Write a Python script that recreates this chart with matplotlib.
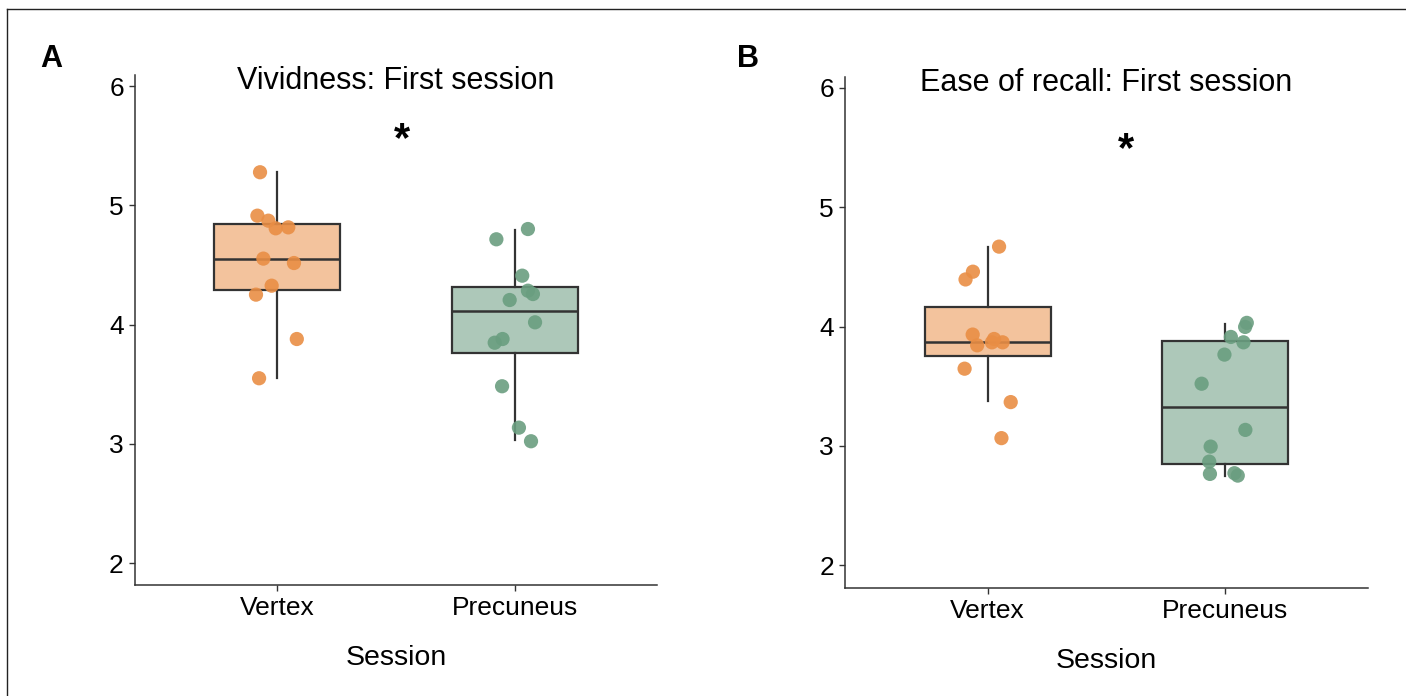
import matplotlib
matplotlib.use("Agg")
import matplotlib.pyplot as plt
from matplotlib.lines import Line2D
import numpy as np

plt.rcParams['font.family'] = ['Liberation Sans', 'DejaVu Sans']

categories = ["Vertex", "Precuneus"]

# Panel A: vividness, first session
viv_vertex = [5.277, 4.913, 4.871, 4.807, 4.815, 4.553, 4.516, 4.326, 4.251, 3.879, 3.550]
viv_vertex_jit = [-0.073, -0.084, -0.038, -0.007, 0.046, -0.059, 0.070, -0.024, -0.090, 0.082, -0.077]
viv_precun = [4.801, 4.715, 4.410, 4.284, 4.256, 4.206, 4.019, 3.879, 3.848, 3.483, 3.136, 3.022]
viv_precun_jit = [0.056, -0.077, 0.032, 0.056, 0.077, -0.021, 0.086, -0.051, -0.084, -0.053, 0.018, 0.069]
# box stats: whislo, q1, med, q3, whishi
viv_boxes = [[3.550, 4.290, 4.553, 4.843, 5.277],
             [3.030, 3.759, 4.114, 4.318, 4.793]]

# Panel B: ease of recall, first session
ease_vertex = [4.670, 4.460, 4.395, 3.933, 3.843, 3.896, 3.868, 3.868, 3.647, 3.367, 3.065]
ease_vertex_jit = [0.048, -0.062, -0.093, -0.063, -0.044, 0.027, 0.018, 0.063, -0.097, 0.097, 0.058]
ease_precun = [4.031, 3.997, 3.913, 3.868, 3.765, 3.521, 3.134, 2.994, 2.868, 2.765, 2.771, 2.751]
ease_precun_jit = [0.090, 0.083, 0.023, 0.076, -0.004, -0.100, 0.084, -0.062, -0.068, -0.065, 0.038, 0.052]
ease_boxes = [[3.372, 3.750, 3.868, 4.162, 4.670],
              [2.748, 2.846, 3.330, 3.882, 4.025]]

POINT_COLORS = ["#E98E45", "#6A9E80"]
FILL_COLORS = ["#F3C39D", "#ADC8B9"]
LINE_COLOR = "#333333"


def draw_panel(ax, boxes, points, jitters, title, star_xy, ylim):
    stats = []
    for i, b in enumerate(boxes):
        stats.append(dict(whislo=b[0], q1=b[1], med=b[2], q3=b[3], whishi=b[4],
                          fliers=[], label=categories[i]))
    bp = ax.bxp(stats, positions=[1, 2], widths=0.53, patch_artist=True,
                showcaps=False, showfliers=False,
                boxprops=dict(edgecolor=LINE_COLOR, linewidth=1.6),
                whiskerprops=dict(color=LINE_COLOR, linewidth=1.6),
                medianprops=dict(color=LINE_COLOR, linewidth=1.8))
    for patch, c in zip(bp['boxes'], FILL_COLORS):
        patch.set_facecolor(c)
    for i, (vals, jit) in enumerate(zip(points, jitters)):
        x = (i + 1) + np.array(jit)
        ax.scatter(x, vals, s=105, color=POINT_COLORS[i], alpha=0.9,
                   edgecolors='none', zorder=3)
    ax.text(star_xy[0], star_xy[1], "*", fontsize=30, fontweight='bold',
            ha='center', va='center')
    ax.set_xlim(0.4, 2.6)
    ax.set_ylim(*ylim)
    ax.set_yticks([2, 3, 4, 5, 6])
    ax.set_xticks([1, 2])
    ax.set_xticklabels(categories)
    # fixed y so matplotlib does not push the title up
    ax.set_title(title, fontsize=22, y=0.972, pad=0)
    ax.set_xlabel("Session", fontsize=20.5, labelpad=18)
    for side in ['top', 'right']:
        ax.spines[side].set_visible(False)
    for side in ['left', 'bottom']:
        ax.spines[side].set_color(LINE_COLOR)
        ax.spines[side].set_linewidth(1.1)
    ax.tick_params(labelsize=19, length=4, width=1.0, color=LINE_COLOR, pad=4)


fig = plt.figure(figsize=(14.06, 6.96), dpi=100)
axA = fig.add_axes([0.0960, 0.1595, 0.3713, 0.7327])
axB = fig.add_axes([0.6010, 0.1552, 0.3720, 0.7342])

draw_panel(axA, viv_boxes, [viv_vertex, viv_precun], [viv_vertex_jit, viv_precun_jit],
           "Vividness: First session", (1.527, 5.55), (1.817, 6.092))
draw_panel(axB, ease_boxes, [ease_vertex, ease_precun], [ease_vertex_jit, ease_precun_jit],
           "Ease of recall: First session", (1.582, 5.48), (1.809, 6.092))

fig.text(0.0285, 0.915, "A", fontsize=22, fontweight='bold', va='center')
fig.text(0.524, 0.915, "B", fontsize=22, fontweight='bold', va='center')

# frame lines along the top and left edge
fig.add_artist(Line2D([7 / 1406, 1.0], [1 - 9 / 696, 1 - 9 / 696], color="#222222", linewidth=1.0))
fig.add_artist(Line2D([7 / 1406, 7 / 1406], [0.0, 1 - 9 / 696], color="#222222", linewidth=1.0))

fig.savefig("out.png", dpi=100)
